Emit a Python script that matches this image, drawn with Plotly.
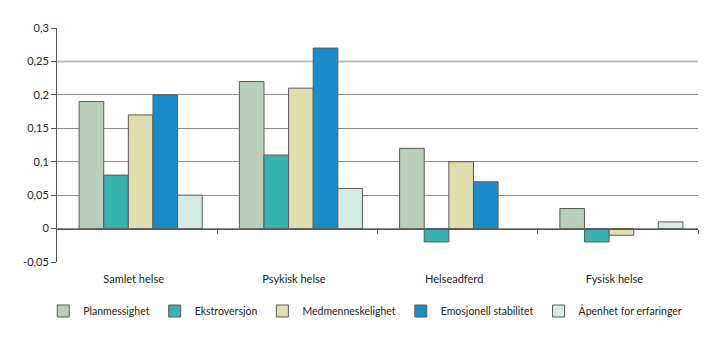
import plotly.graph_objects as go

categories = ["Samlet helse", "Psykisk helse", "Helseadferd", "Fysisk helse"]
series_names = ["Planmessighet", "Ekstroversjon", "Medmenneskelighet",
                "Emosjonell stabilitet", "Åpenhet for erfaringer"]
planmessighet = [0.19, 0.22, 0.12, 0.03]
ekstroversjon = [0.08, 0.11, -0.02, -0.02]
medmenneskelighet = [0.17, 0.21, 0.10, -0.01]
emosjonell = [0.20, 0.27, 0.07, None]
apenhet = [0.05, 0.06, None, 0.01]
colors = ["#b9cfbb", "#38b3ad", "#e0deae", "#1a8dc9", "#d8ebe3"]
tick_vals = [-0.05, 0, 0.05, 0.1, 0.15, 0.2, 0.25, 0.3]
tick_text = ["-0,05", "0", "0,05", "0,1", "0,15", "0,2", "0,25", "0,3"]
dark_grid_vals = [-0.05, 0, 0.05, 0.1, 0.15, 0.2, 0.3]
light_grid_val = 0.25
y_range = [-0.05, 0.3]

FONT = "Lato"
fig = go.Figure()
for name, vals, col in zip(series_names,
                           [planmessighet, ekstroversjon, medmenneskelighet, emosjonell, apenhet],
                           colors):
    fig.add_trace(go.Bar(x=categories, y=vals, name=name,
                         marker=dict(color=col, line=dict(color="#5a5a5a", width=1))))

# empty helper trace so the zero-line axis (with boundary ticks) is drawn
fig.add_trace(go.Scatter(x=[], y=[], xaxis="x2", yaxis="y", showlegend=False,
                         hoverinfo="skip"))

zero_pos = (0 - y_range[0]) / (y_range[1] - y_range[0])
shift = 0.022  # bars sit slightly right of the category centre

fig.update_layout(
    width=719, height=341,
    margin=dict(l=57, r=21, t=28, b=79, autoexpand=False),
    paper_bgcolor="white", plot_bgcolor="white",
    barmode="group", bargap=0.232, bargroupgap=0,
    font=dict(family=FONT, size=11, color="#222222"),
    showlegend=True,
    legend=dict(orientation="h", xref="container", yref="container",
                x=0.508, xanchor="center", y=30 / 341, yanchor="middle",
                font=dict(size=10.5), itemwidth=30, tracegroupgap=0),
    xaxis=dict(showgrid=False, showline=False, ticks="", zeroline=False,
               range=[-0.5 - shift, 3.5 - shift],
               tickfont=dict(size=11), ticklabelstandoff=9, ticklabelshift=-7),
    xaxis2=dict(overlaying="x", anchor="free", position=zero_pos,
                range=[-0.5, 3.5], tickvals=[0.5, 1.5, 2.5, 3.5],
                ticks="outside", ticklen=4, tickcolor="#555555",
                showticklabels=False, showline=True, linecolor="#555555",
                showgrid=False, zeroline=False, side="bottom"),
    yaxis=dict(range=y_range, tickvals=tick_vals, ticktext=tick_text,
               showgrid=False,
               minor=dict(tickvals=dark_grid_vals, showgrid=True,
                          gridcolor="#8a8a8a", gridwidth=1, ticks=""),
               zeroline=False, showline=True, linecolor="#555555",
               ticks="outside", ticklen=5, tickcolor="#555555",
               tickfont=dict(size=11)),
)
fig.add_shape(type="line", xref="paper", yref="y", x0=0, x1=1,
              y0=light_grid_val, y1=light_grid_val,
              line=dict(color="#bdbdbd", width=2), layer="between")
fig.write_html("out.html")
